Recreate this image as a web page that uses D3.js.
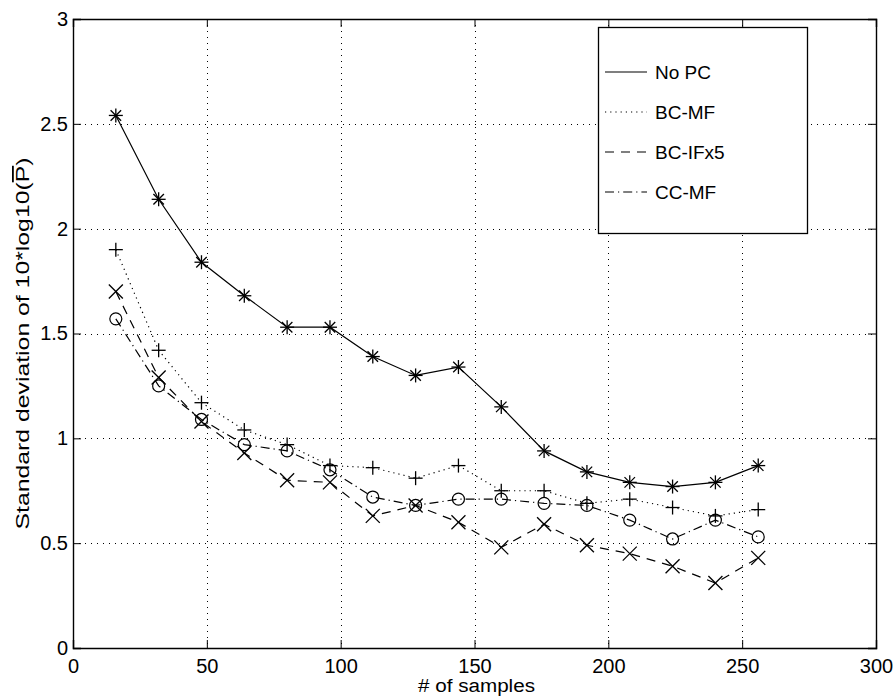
<!DOCTYPE html>
<html>
<head>
<meta charset="utf-8">
<script src="https://cdn.jsdelivr.net/npm/d3@7"></script>
<style>
  body { margin: 0; background: #fff; }
  text { font-family: "Liberation Sans", Arial, sans-serif; fill: #000; }
</style>
</head>
<body>
<svg id="chart" width="895" height="698"></svg>
<script>
// data
var samples = [16, 32, 48, 64, 80, 96, 112, 128, 144, 160, 176, 192, 208, 224, 240, 256];
var noPC   = [2.54, 2.14, 1.84, 1.68, 1.53, 1.53, 1.39, 1.30, 1.34, 1.15, 0.94, 0.84, 0.79, 0.77, 0.79, 0.87];
var bcMF   = [1.90, 1.42, 1.17, 1.04, 0.97, 0.87, 0.86, 0.81, 0.87, 0.75, 0.75, 0.69, 0.71, 0.67, 0.63, 0.66];
var bcIFx5 = [1.70, 1.29, 1.08, 0.93, 0.80, 0.79, 0.63, 0.68, 0.60, 0.48, 0.59, 0.49, 0.45, 0.39, 0.31, 0.43];
var ccMF   = [1.57, 1.25, 1.09, 0.97, 0.94, 0.85, 0.72, 0.68, 0.71, 0.71, 0.69, 0.68, 0.61, 0.52, 0.61, 0.53];
var seriesNames = ["No PC", "BC-MF", "BC-IFx5", "CC-MF"];
var xTicks = [0, 50, 100, 150, 200, 250, 300];
var yTicks = [0, 0.5, 1, 1.5, 2, 2.5, 3];

var series = [
    {name: seriesNames[0], values: noPC,   dash: null,         marker: "star"},
    {name: seriesNames[1], values: bcMF,   dash: "1.2,4",      marker: "plus"},
    {name: seriesNames[2], values: bcIFx5, dash: "9,7",        marker: "cross"},
    {name: seriesNames[3], values: ccMF,   dash: "9,4,1.2,4",  marker: "circle"}
];

var svg = d3.select("#chart");
var mLeft = 73, mRight = 876, mTop = 19, mBottom = 648;

var x = d3.scaleLinear().domain([0, 300]).range([mLeft, mRight]);
var y = d3.scaleLinear().domain([0, 3]).range([mBottom, mTop]);

// grid
var grid = svg.append("g").attr("stroke", "#000").attr("stroke-width", 1)
    .attr("stroke-dasharray", "1,5").attr("shape-rendering", "crispEdges");
grid.selectAll(".gx").data(xTicks.slice(1, -1)).join("line")
    .attr("x1", d => Math.round(x(d)) + 0.5).attr("x2", d => Math.round(x(d)) + 0.5)
    .attr("y1", mTop).attr("y2", mBottom);
grid.selectAll(".gy").data(yTicks.slice(1, -1)).join("line")
    .attr("y1", d => Math.round(y(d)) + 0.5).attr("y2", d => Math.round(y(d)) + 0.5)
    .attr("x1", mLeft).attr("x2", mRight);

// axes, ticks inside (matlab style)
var tickLen = 8;
var xAxis = svg.append("g").attr("transform", "translate(0," + mBottom + ")")
    .call(d3.axisBottom(x).tickValues(xTicks).tickSize(-tickLen).tickPadding(11).tickFormat(d3.format("d")));
var xAxisTop = svg.append("g").attr("transform", "translate(0," + mTop + ")")
    .call(d3.axisTop(x).tickValues(xTicks).tickSize(-tickLen).tickFormat(""));
var yAxis = svg.append("g").attr("transform", "translate(" + mLeft + ",0)")
    .call(d3.axisLeft(y).tickValues(yTicks).tickSize(-tickLen).tickPadding(5).tickFormat(d3.format("")));
var yAxisRight = svg.append("g").attr("transform", "translate(" + mRight + ",0)")
    .call(d3.axisRight(y).tickValues(yTicks).tickSize(-tickLen).tickFormat(""));

[xAxis, xAxisTop, yAxis, yAxisRight].forEach(function(a){
    a.select(".domain").attr("stroke", "#000").attr("stroke-width", 1.4);
    a.selectAll(".tick line").attr("stroke", "#000");
    a.selectAll("text").attr("font-size", 20).attr("font-family", "Liberation Sans, Arial, sans-serif").attr("fill", "#000");
});

// labels
svg.append("text")
    .attr("x", (mLeft + mRight) / 2 + 2).attr("y", 692)
    .attr("text-anchor", "middle").attr("font-size", 18)
    .attr("textLength", 117).attr("lengthAdjust", "spacingAndGlyphs")
    .text("# of samples");

var yl = svg.append("text")
    .attr("transform", "translate(29," + ((mTop + mBottom) / 2 + 10) + ") rotate(-90)")
    .attr("text-anchor", "middle").attr("font-size", 18)
    .attr("textLength", 372).attr("lengthAdjust", "spacingAndGlyphs");
yl.append("tspan").text("Standard deviation of 10*log10(");
yl.append("tspan").style("text-decoration", "overline").text("P");
yl.append("tspan").text(")");

// lines
var line = d3.line().x((d, i) => x(samples[i])).y(d => y(d));

var plot = svg.append("g");
plot.selectAll(".series").data(series).join("path")
    .attr("class", "series")
    .attr("fill", "none").attr("stroke", "#000").attr("stroke-width", 1.2)
    .attr("stroke-dasharray", d => d.dash)
    .attr("d", d => line(d.values));

function drawMarker(g, type, cx, cy) {
    var s = 7;
    if (type === "circle") {
        g.append("circle").attr("cx", cx).attr("cy", cy).attr("r", 6)
            .attr("fill", "none").attr("stroke", "#000").attr("stroke-width", 1.2);
        return;
    }
    var segs = [];
    if (type === "plus" || type === "star") segs.push([-s, 0, s, 0], [0, -s, 0, s]);
    if (type === "cross") segs.push([-s, -s, s, s], [-s, s, s, -s]);
    if (type === "star") segs.push([-s * 0.75, -s * 0.75, s * 0.75, s * 0.75], [-s * 0.75, s * 0.75, s * 0.75, -s * 0.75]);
    segs.forEach(function(p){
        g.append("line").attr("x1", cx + p[0]).attr("y1", cy + p[1]).attr("x2", cx + p[2]).attr("y2", cy + p[3])
            .attr("stroke", "#000").attr("stroke-width", 1.3);
    });
}

series.forEach(function(s){
    var g = plot.append("g");
    s.values.forEach(function(v, i){ drawMarker(g, s.marker, x(samples[i]), y(v)); });
});

// legend
var lg = svg.append("g");
lg.append("rect").attr("x", 598.5).attr("y", 27.5).attr("width", 209).attr("height", 206)
    .attr("fill", "#fff").attr("stroke", "#000").attr("stroke-width", 1.3);
var ly = d3.scalePoint().domain(seriesNames).range([72, 192]);
series.forEach(function(s){
    lg.append("line").attr("x1", 605).attr("x2", 647).attr("y1", ly(s.name)).attr("y2", ly(s.name))
        .attr("stroke", "#000").attr("stroke-width", 1.2).attr("stroke-dasharray", s.dash);
    lg.append("text").attr("x", 655).attr("y", ly(s.name) + 7).attr("font-size", 19).text(s.name);
});
</script>
</body>
</html>
